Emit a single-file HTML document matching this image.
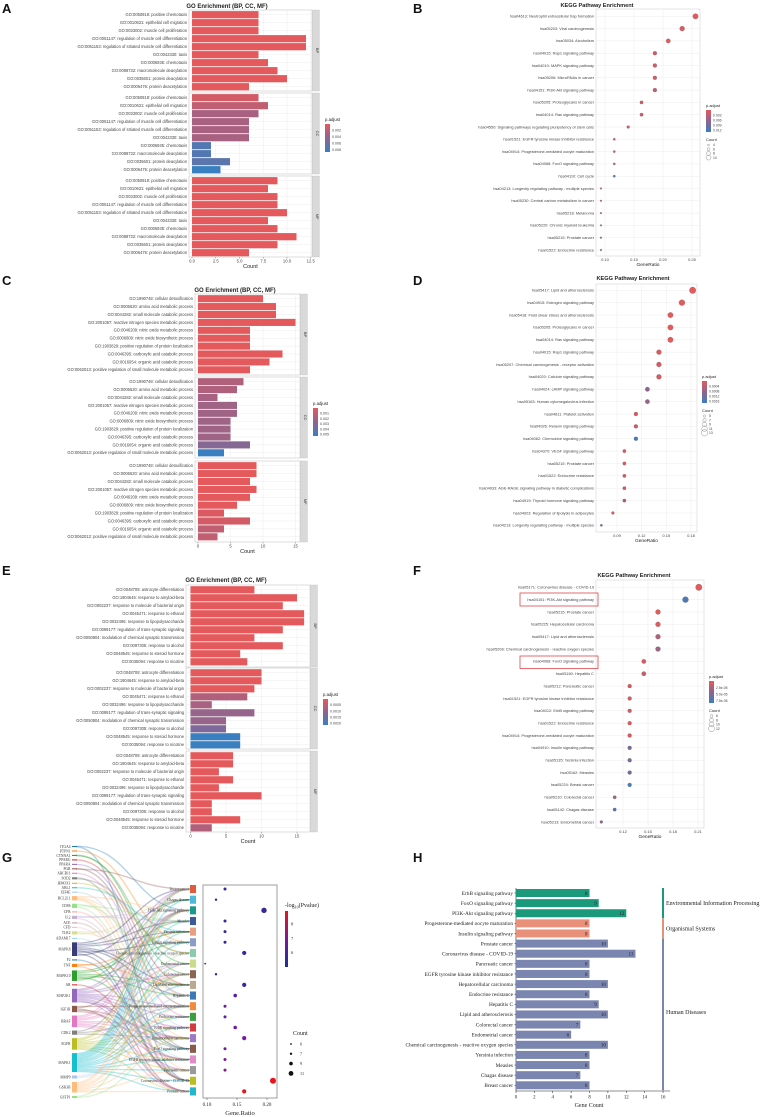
<!DOCTYPE html>
<html><head><meta charset="utf-8"><style>
html,body{margin:0;padding:0;background:#fff;}
svg{display:block;font-family:"Liberation Sans",sans-serif;}
</style></head><body>
<svg id="fig" xmlns="http://www.w3.org/2000/svg" width="768" height="1117" viewBox="0 0 768 1117">
<defs>
<linearGradient id="pgrad" x1="0" y1="0" x2="0" y2="1"><stop offset="0" stop-color="#e3595c"/><stop offset="0.5" stop-color="#8e6590"/><stop offset="1" stop-color="#3a7fc0"/></linearGradient>
<linearGradient id="ggrad" x1="0" y1="0" x2="0" y2="1"><stop offset="0" stop-color="#e8141c"/><stop offset="0.5" stop-color="#7a1a9a"/><stop offset="1" stop-color="#1a2f9a"/></linearGradient>
</defs>
<g font-weight="bold" font-size="13" fill="#111">
<text x="2" y="13">A</text>
<text x="413" y="13">B</text>
<text x="2" y="285">C</text>
<text x="413" y="285">D</text>
<text x="2" y="575">E</text>
<text x="413" y="575">F</text>
<text x="2" y="862">G</text>
<text x="413" y="862">H</text>
</g>
</svg>
<script>
// ---------- data ----------
const goLabelsA=["GO:0050918: positive chemotaxis","GO:0010631: epithelial cell migration","GO:0033002: muscle cell proliferation","GO:0051147: regulation of muscle cell differentiation","GO:0051153: regulation of striated muscle cell differentiation","GO:0042330: taxis","GO:0006935: chemotaxis","GO:0098732: macromolecule deacylation","GO:0035601: protein deacylation","GO:0006476: protein deacetylation"];
const goCountsA_BP=[7,7,7,12,12,7,8,9,10,6];
const goCountsA_CC=[7,8,7,6,6,6,2,2,4,3];
const goCountsA_MF=[9,8,9,9,10,8,9,11,9,6];
const goPadjA_BP=[0,0,0,0,0,0,0,0,0,0];
const goPadjA_CC=[0.1,0.2,0.35,0.35,0.35,0.35,0.85,0.85,0.8,1];
const goPadjA_MF=[0,0,0,0,0,0,0,0,0,0];
const goTicksA=["0.0","2.5","5.0","7.5","10.0","12.5"];
const goTickValsA=[0,2.5,5,7.5,10,12.5];

const goLabelsC=["GO:1990748: cellular detoxification","GO:0006520: amino acid metabolic process","GO:0044282: small molecule catabolic process","GO:2001057: reactive nitrogen species metabolic process","GO:0046209: nitric oxide metabolic process","GO:0006809: nitric oxide biosynthetic process","GO:1903829: positive regulation of protein localization","GO:0046395: carboxylic acid catabolic process","GO:0016054: organic acid catabolic process","GO:0062013: positive regulation of small molecule metabolic process"];
const goCountsC_BP=[10,12,12,15,8,8,8,13,11,8];
const goCountsC_CC=[7,6,3,6,6,5,5,5,8,4];
const goCountsC_MF=[9,9,8,9,8,6,4,8,4,3];
const goPadjC_BP=[0,0,0,0,0,0,0,0,0,0];
const goPadjC_CC=[0.3,0.3,0.35,0.4,0.4,0.4,0.4,0.4,0.55,1];
const goPadjC_MF=[0,0,0,0,0,0,0.05,0.1,0.2,0.2];
const goTicksC=["0","5","10","15"];
const goTickValsC=[0,5,10,15];

const goLabelsE=["GO:0048708: astrocyte differentiation","GO:1904645: response to amyloid-beta","GO:0002237: response to molecule of bacterial origin","GO:0045471: response to ethanol","GO:0032496: response to lipopolysaccharide","GO:0099177: regulation of trans-synaptic signaling","GO:0050804: modulation of chemical synaptic transmission","GO:0097305: response to alcohol","GO:0048545: response to steroid hormone","GO:0035094: response to nicotine"];
const goCountsE_BP=[9,15,13,16,16,13,9,13,7,8];
const goCountsE_CC=[10,10,9,8,3,9,5,5,7,7];
const goCountsE_MF=[6,6,4,6,4,10,3,3,7,3];
const goPadjE_BP=[0,0,0,0,0,0,0,0,0,0];
const goPadjE_CC=[0,0,0,0.3,0.35,0.45,0.45,0.6,1,1];
const goPadjE_MF=[0,0,0,0,0,0,0,0,0,0.3];
const goTicksE=["0","5","10","15"];
const goTickValsE=[0,5,10,15];

const keggLabelsB=["hsa04613: Neutrophil extracellular trap formation","hsa05203: Viral carcinogenesis","hsa05034: Alcoholism","hsa04015: Rap1 signaling pathway","hsa04010: MAPK signaling pathway","hsa05206: MicroRNAs in cancer","hsa04151: PI3K-Akt signaling pathway","hsa05205: Proteoglycans in cancer","hsa04014: Ras signaling pathway","hsa04550: Signaling pathways regulating pluripotency of stem cells","hsa01521: EGFR tyrosine kinase inhibitor resistance","hsa04914: Progesterone-mediated oocyte maturation","hsa04068: FoxO signaling pathway","hsa04110: Cell cycle","hsa04213: Longevity regulating pathway - multiple species","hsa05230: Central carbon metabolism in cancer","hsa05218: Melanoma","hsa05220: Chronic myeloid leukemia","hsa05215: Prostate cancer","hsa01522: Endocrine resistance"];
const keggRatioB=[0.256,0.233,0.209,0.186,0.186,0.186,0.186,0.163,0.163,0.14,0.116,0.116,0.116,0.116,0.093,0.093,0.093,0.093,0.093,0.093];
const keggCountB=[11,10,9,8,8,8,8,7,7,6,5,5,5,5,4,4,4,4,4,4];
const keggPadjB=[0,0.05,0,0.1,0.1,0.1,0.2,0.1,0.15,0.1,0.1,0.15,0.2,0.8,0.3,0.3,0.3,0.4,0.9,0.8];
const keggTicksB=[0.10,0.15,0.20,0.25];

const keggLabelsD=["hsa05417: Lipid and atherosclerosis","hsa04915: Estrogen signaling pathway","hsa05418: Fluid shear stress and atherosclerosis","hsa05205: Proteoglycans in cancer","hsa04014: Ras signaling pathway","hsa04015: Rap1 signaling pathway","hsa05207: Chemical carcinogenesis - receptor activation","hsa04020: Calcium signaling pathway","hsa04024: cAMP signaling pathway","hsa05163: Human cytomegalovirus infection","hsa04611: Platelet activation","hsa04926: Relaxin signaling pathway","hsa04062: Chemokine signaling pathway","hsa04370: VEGF signaling pathway","hsa05215: Prostate cancer","hsa01522: Endocrine resistance","hsa04933: AGE-RAGE signaling pathway in diabetic complications","hsa04919: Thyroid hormone signaling pathway","hsa04923: Regulation of lipolysis in adipocytes","hsa04213: Longevity regulating pathway - multiple species"];
const keggRatioD=[0.182,0.169,0.155,0.155,0.155,0.141,0.141,0.141,0.127,0.127,0.113,0.113,0.113,0.099,0.099,0.099,0.099,0.099,0.085,0.071];
const keggCountD=[13,12,11,11,11,10,10,10,9,9,8,8,8,7,7,7,7,7,6,5];
const keggPadjD=[0,0,0,0,0,0.05,0.1,0.1,0.5,0.45,0.05,0.1,0.95,0.1,0.05,0.1,0.1,0.3,0.1,0.8];
const keggTicksD=[0.09,0.12,0.15,0.18];

const keggLabelsF=["hsa05171: Coronavirus disease - COVID-19","hsa04151: PI3K-Akt signaling pathway","hsa05215: Prostate cancer","hsa05225: Hepatocellular carcinoma","hsa05417: Lipid and atherosclerosis","hsa05208: Chemical carcinogenesis - reactive oxygen species","hsa04068: FoxO signaling pathway","hsa05160: Hepatitis C","hsa05212: Pancreatic cancer","hsa01521: EGFR tyrosine kinase inhibitor resistance","hsa04012: ErbB signaling pathway","hsa01522: Endocrine resistance","hsa04914: Progesterone-mediated oocyte maturation","hsa04910: Insulin signaling pathway","hsa05135: Yersinia infection","hsa05162: Measles","hsa05224: Breast cancer","hsa05210: Colorectal cancer","hsa05142: Chagas disease","hsa05213: Endometrial cancer"];
const keggRatioF=[0.211,0.195,0.162,0.162,0.162,0.162,0.145,0.145,0.128,0.128,0.128,0.128,0.128,0.128,0.128,0.128,0.128,0.11,0.11,0.094];
const keggCountF=[13,12,10,10,10,10,9,9,8,8,8,8,8,8,8,8,8,7,7,6];
const keggPadjF=[0,0.9,0,0,0.3,0.4,0.1,0.2,0.05,0.05,0.05,0.05,0.05,0.6,0.6,0.6,0.9,0.4,0.8,0.5];
const keggTicksF=[0.12,0.15,0.18,0.21];

const sankeyGenes=["ITGA4","PTPN1","CTNNA1","PPARG","PPARA","PGR","ABCB11","SOD2","HMOX1","ABL1","EIF4E","BCL2L1","CD86","CFB","IL2","ACE","CFD","TLR2","ADAM17","MAPK8","F2","TNF","MAPK10","AR","MAP2K1","IGF1R","BRAF","CDK2","EGFR","MAPK1","MMP9","GSK3B","GSTP1"];
const sankeyGeneSize=[1,1,1,1,1,1,1,2,1,1,1,4,4,1,3,1,1,3,1,13,1,3,10,1,13,6,11,4,11,18,3,10,2];
const sankeyPathways=["Breast cancer","Chagas disease","PI3K-Akt signaling pathway","Measles","Yersinia infection","Insulin signaling pathway","Chemical carcinogenesis - reactive oxygen species","Endometrial cancer","Colorectal cancer","Lipid and atherosclerosis","Hepatitis C","Progesterone-mediated oocyte maturation","Endocrine resistance","ErbB signaling pathway","Hepatocellular carcinoma","FoxO signaling pathway","EGFR tyrosine kinase inhibitor resistance","Pancreatic cancer","Coronavirus disease - COVID-19","Prostate cancer"];
const sankeyRatio=[0.13,0.115,0.195,0.13,0.13,0.13,0.162,0.097,0.115,0.162,0.147,0.13,0.13,0.147,0.162,0.13,0.13,0.13,0.21,0.162];
const sankeyCount=[8,7,12,8,8,8,10,6,7,10,9,8,8,9,10,8,8,8,13,10];
const sankeyLogP=[5.6,5.4,5.8,5.6,5.6,5.6,5.7,5.5,5.6,5.8,6.3,6.7,6.6,6.9,7.0,6.8,7.0,7.2,8.8,8.8];
const sankeyLinks=[[0,2],[0,18],[1,5],[2,8],[2,7],[3,9],[4,10],[5,11],[5,0],[6,12],[7,15],[7,6],[8,6],[9,4],[10,13],[11,2],[11,10],[11,14],[11,17],[12,9],[12,3],[12,18],[13,18],[14,3],[14,2],[14,18],[15,18],[16,18],[17,4],[17,9],[17,1],[18,16],[19,0],[19,3],[19,4],[19,9],[19,10],[19,15],[19,5],[19,18],[19,1],[20,18],[21,9],[21,4],[21,18],[22,3],[22,4],[22,9],[22,10],[22,15],[22,5],[22,1],[23,19],[24,0],[24,2],[24,7],[24,8],[24,11],[24,12],[24,13],[24,14],[24,16],[24,17],[24,19],[24,15],[25,11],[25,2],[25,19],[25,14],[25,16],[26,0],[26,2],[26,7],[26,8],[26,13],[26,14],[26,16],[26,17],[26,19],[27,2],[27,11],[27,14],[28,0],[28,2],[28,8],[28,12],[28,13],[28,14],[28,16],[28,17],[28,19],[29,0],[29,1],[29,2],[29,3],[29,4],[29,5],[29,7],[29,8],[29,9],[29,11],[29,12],[29,13],[29,15],[29,16],[29,17],[29,18],[29,19],[30,9],[30,10],[31,0],[31,2],[31,7],[31,8],[31,11],[31,14],[31,17],[31,19],[32,6],[32,14]];

const hCategories=["ErbB signaling pathway","FoxO signaling pathway","PI3K-Akt signaling pathway","Progesterone-mediated oocyte maturation","Insulin signaling pathway","Prostate cancer","Coronavirus disease - COVID-19","Pancreatic cancer","EGFR tyrosine kinase inhibitor resistance","Hepatocellular carcinoma","Endocrine resistance","Hepatitis C","Lipid and atherosclerosis","Colorectal cancer","Endometrial cancer","Chemical carcinogenesis - reactive oxygen species","Yersinia infection","Measles","Chagas disease","Breast cancer"];
const hCounts=[8,9,12,8,8,10,13,8,8,10,8,9,10,7,6,10,8,8,7,8];
const hGroup=[0,0,0,1,1,2,2,2,2,2,2,2,2,2,2,2,2,2,2,2];
const hGroupNames=["Environmental Information Processing","Organismal Systems","Human Diseases"];
const hTicks=[0,2,4,6,8,10,12,14,16];

// ---------- helpers ----------
const NS="http://www.w3.org/2000/svg";
const svg=document.getElementById('fig');
function mk(tag,attrs,parent,txt){const e=document.createElementNS(NS,tag);for(const k in attrs)e.setAttribute(k,attrs[k]);if(txt!==undefined)e.textContent=txt;(parent||svg).appendChild(e);return e;}
function grp(name,parent){const g=mk('g',{},parent);


return g;}
const RED=[227,89,92],PUR=[142,101,144],BLU=[58,127,192];
function lerp(a,b,t){return a.map((v,i)=>Math.round(v+(b[i]-v)*t));}
function pcol(t){const c=t<0.5?lerp(RED,PUR,t*2):lerp(PUR,BLU,(t-0.5)*2);return 'rgb('+c.join(',')+')';}

// ---------- GO bar panel ----------
function goPanel(c){
  const g=grp(c.name);
  const t=mk('text',{x:c.titleX,y:c.titleY,'font-size':6,'font-weight':'bold','text-anchor':'middle',fill:'#222'},g,'GO Enrichment (BP, CC, MF)');
  
  
  const xs=v=>c.x0+v*c.k;
  const strips=['BP','CC','MF'];
  c.facets.forEach((f,fi)=>{
    const fg=grp('facet-'+strips[fi].toLowerCase(),g);
    mk('rect',{x:c.left,y:f[0],width:c.right-c.left,height:f[1]-f[0],fill:'#fff',stroke:'#bbb','stroke-width':0.5},fg);
    c.tickVals.forEach(tv=>{mk('line',{x1:xs(tv),x2:xs(tv),y1:f[0],y2:f[1],stroke:'#ececec','stroke-width':0.5},fg);});
    const vals=c.counts[fi],cols=c.padj[fi];
    vals.forEach((v,i)=>{
      const cy=f[0]+c.pad+i*c.step;
      mk('line',{x1:c.left,x2:c.right,y1:cy,y2:cy,stroke:'#ececec','stroke-width':0.5},fg);
      const b=mk('rect',{x:xs(0),y:cy-c.step*0.45,width:xs(v)-xs(0),height:c.step*0.9,fill:pcol(cols[i])},fg);
      
      
      const l=mk('text',{x:c.left-2,y:cy+1.4,'font-size':4.1,'text-anchor':'end',fill:'#444'},fg,c.labels[i]);
      
      
    });
    mk('rect',{x:c.right+0.5,y:f[0],width:7,height:f[1]-f[0],fill:'#d9d9d9',stroke:'#bbb','stroke-width':0.3},fg);
    const st=mk('text',{x:c.right+4,y:(f[0]+f[1])/2,'font-size':4,'text-anchor':'middle',fill:'#333',transform:'rotate(90 '+(c.right+4)+' '+((f[0]+f[1])/2)+')'},fg,strips[fi]);
    
    
  });
  const yb=c.facets[2][1];
  c.tickVals.forEach((tv,i)=>{
    mk('line',{x1:xs(tv),x2:xs(tv),y1:yb,y2:yb+1.5,stroke:'#555','stroke-width':0.4},g);
    const tl=mk('text',{x:xs(tv),y:yb+5.5,'font-size':4.2,'text-anchor':'middle',fill:'#444'},g,c.ticks[i]);
    
    
  });
  const xt=mk('text',{x:(c.left+c.right)/2,y:yb+11,'font-size':5.5,'text-anchor':'middle',fill:'#222'},g,'Count');
  
  
  const lg=grp('legend-padjust',g);
  mk('text',{x:c.lx,y:c.ly,'font-size':4.3,fill:'#222'},lg,'p.adjust');
  mk('rect',{x:c.lx,y:c.ly+3,width:5,height:c.lh,fill:'url(#pgrad)'},lg);
  c.lticks.forEach((s,i)=>{const yy=c.ly+3+c.lh*(i+1)/(c.lticks.length+0.3);mk('text',{x:c.lx+7,y:yy+1.2,'font-size':3.6,fill:'#444'},lg,s);});
}
goPanel({name:'panel-a-go-bars',titleX:227,titleY:8,x0:192,k:9.5,left:189,right:312,facets:[[10,91],[93,174],[176,257]],pad:4.7,step:8,labels:goLabelsA,counts:[goCountsA_BP,goCountsA_CC,goCountsA_MF],padj:[goPadjA_BP,goPadjA_CC,goPadjA_MF],ticks:goTicksA,tickVals:goTickValsA,lx:325,ly:121,lh:28,lticks:['0.002','0.004','0.006','0.008']});
goPanel({name:'panel-c-go-bars',titleX:235,titleY:292,x0:198,k:6.5,left:195,right:300,facets:[[294,375],[377,458],[461,542]],pad:4.7,step:7.9,labels:goLabelsC,counts:[goCountsC_BP,goCountsC_CC,goCountsC_MF],padj:[goPadjC_BP,goPadjC_CC,goPadjC_MF],ticks:goTicksC,tickVals:goTickValsC,lx:313,ly:405,lh:28,lticks:['0.001','0.002','0.003','0.004','0.005']});
goPanel({name:'panel-e-go-bars',titleX:226,titleY:582,x0:190.5,k:7.1,left:186,right:310,facets:[[585,667],[668,749],[751,832]],pad:4.8,step:8,labels:goLabelsE,counts:[goCountsE_BP,goCountsE_CC,goCountsE_MF],padj:[goPadjE_BP,goPadjE_CC,goPadjE_MF],ticks:goTicksE,tickVals:goTickValsE,lx:323,ly:696,lh:26,lticks:['0.0005','0.0010','0.0015','0.0020']});

// ---------- KEGG dot panel ----------
function keggPanel(c){
  const g=grp(c.name);
  const t=mk('text',{x:c.titleX,y:c.titleY,'font-size':5.6,'font-weight':'bold','text-anchor':'middle',fill:'#222'},g,'KEGG Pathway Enrichment');
  
  
  const xs=v=>c.xa+(v-c.va)*c.k;
  mk('rect',{x:c.left,y:c.top,width:c.right-c.left,height:c.bottom-c.top,fill:'#fff',stroke:'#ccc','stroke-width':0.5},g);
  c.ticks.forEach(tv=>{mk('line',{x1:xs(tv),x2:xs(tv),y1:c.top,y2:c.bottom,stroke:'#ececec','stroke-width':0.5},g);});
  c.labels.forEach((lab,i)=>{
    const cy=c.y0+i*c.step;
    mk('line',{x1:c.left,x2:c.right,y1:cy,y2:cy,stroke:'#ececec','stroke-width':0.5},g);
    const l=mk('text',{x:c.left-2,y:cy+1.3,'font-size':3.9,'text-anchor':'end',fill:'#444'},g,lab);
    
    
    const d=mk('circle',{cx:xs(c.ratio[i]),cy:cy,r:0.9+(c.count[i]-4)*0.26,fill:pcol(c.padj[i]),stroke:'#555','stroke-width':0.2},g);
    
    
  });
  c.ticks.forEach(tv=>{
    const tl=mk('text',{x:xs(tv),y:c.bottom+5,'font-size':4,'text-anchor':'middle',fill:'#444'},g,tv.toFixed(2));
    
    
  });
  const xt=mk('text',{x:(c.left+c.right)/2,y:c.bottom+10,'font-size':4.8,'text-anchor':'middle',fill:'#222'},g,'GeneRatio');
  
  
  const lg=grp('legend',g);
  mk('text',{x:c.lx,y:c.ly,'font-size':4,fill:'#222'},lg,'p.adjust');
  mk('rect',{x:c.lx,y:c.ly+3,width:5,height:22,fill:'url(#pgrad)'},lg);
  c.lticks.forEach((s,i)=>{mk('text',{x:c.lx+7,y:c.ly+3+22*(i+1)/(c.lticks.length+0.3)+1.2,'font-size':3.4,fill:'#444'},lg,s);});
  mk('text',{x:c.lx,y:c.ly+34,'font-size':4,fill:'#222'},lg,'Count');
  c.counts.forEach((n,i)=>{const yy=c.ly+38+i*4.2;mk('circle',{cx:c.lx+2.5,cy:yy,r:0.9+(n-4)*0.26,fill:'none',stroke:'#777','stroke-width':0.4},lg);mk('text',{x:c.lx+7,y:yy+1.2,'font-size':3.4,fill:'#444'},lg,String(n));});
}
keggPanel({name:'panel-b-kegg-dots',titleX:597,titleY:7,left:596,right:700,top:9,bottom:256,y0:16.3,step:12.3,xa:605,va:0.10,k:580,labels:keggLabelsB,ratio:keggRatioB,count:keggCountB,padj:keggPadjB,ticks:keggTicksB,lx:706,ly:107,lticks:['0.003','0.006','0.009','0.012'],counts:[4,6,8,10]});
keggPanel({name:'panel-d-kegg-dots',titleX:633,titleY:280,left:596,right:697,top:284,bottom:532,y0:290.3,step:12.37,xa:617,va:0.09,k:822,labels:keggLabelsD,ratio:keggRatioD,count:keggCountD,padj:keggPadjD,ticks:keggTicksD,lx:702,ly:378,lticks:['0.0004','0.0008','0.0012','0.0016'],counts:[5,7,9,11,13]});
keggPanel({name:'panel-f-kegg-dots',titleX:634,titleY:577,left:596,right:704,top:580,bottom:828,y0:587.3,step:12.35,xa:623,va:0.12,k:833,labels:keggLabelsF,ratio:keggRatioF,count:keggCountF,padj:keggPadjF,ticks:keggTicksF,lx:709,ly:678,lticks:['2.5e-05','5.0e-05','7.5e-05'],counts:[6,8,10,12]});
(function(){
  const hl=grp('highlight-boxes');
  const r1=mk('rect',{x:520,y:593,width:78,height:13,fill:'none',stroke:'#e0474c','stroke-width':0.8},hl);
  
  
  const r2=mk('rect',{x:520,y:656,width:78,height:12.5,fill:'none',stroke:'#e0474c','stroke-width':0.8},hl);
  
  
})();

// ---------- G: sankey + dot ----------
(function(){
  const g=grp('panel-g-sankey');
  const gcols=['#1f77b4','#ff7f0e','#2ca02c','#d62728','#9467bd','#8c564b','#e377c2','#7f7f7f','#bcbd22','#17becf','#aec7e8','#ffbb78','#98df8a','#ff9896','#c5b0d5','#c49c94','#f7b6d2','#dbdb8d','#9edae5','#393b79'];
  const pcols=['#e15a3c','#4db8d8','#1a9a8a','#3c5a9a','#e8a080','#8c9cc8','#8ccab0','#c8dc8c','#8c6450','#bca890','#3c78b4','#f08c3c','#3ca03c','#d23c3c','#9c78c8','#8c5a4a','#e08cc8','#9a9a9a','#bcbd22','#20b8cc'];
  // gene positions
  const gTop=846,gBot=1098;let total=sankeyGeneSize.reduce((a,b)=>a+b,0);
  const gap=(gBot-gTop-total*1.05)/(sankeyGenes.length-1);
  const gy=[];let y=gTop;
  sankeyGenes.forEach((n,i)=>{const h=sankeyGeneSize[i]*1.05;gy.push([y,h]);y+=h+gap;});
  const pTop=885,pH=[];const ph=8.1,pg=2.55;
  const py=sankeyPathways.map((p,i)=>pTop+i*(ph+pg)+ph/2);
  const fl=grp('flows',g);
  const gOff=sankeyGenes.map(()=>0),gCnt=sankeyGenes.map(()=>0);
  sankeyLinks.forEach(l=>gCnt[l[0]]++);
  sankeyLinks.forEach(l=>{
    const gi=l[0],pi=l[1];
    const [y0,h]=gy[gi];const sy=y0+h*(gOff[gi]+0.5)/gCnt[gi];gOff[gi]++;
    const ey=py[pi];
    const p=mk('path',{d:`M76,${sy} C133,${sy} 133,${ey} 190,${ey}`,fill:'none',stroke:gcols[gi%gcols.length],'stroke-opacity':0.35,'stroke-width':1.3},fl);
    
    
  });
  sankeyGenes.forEach((n,i)=>{
    const [y0,h]=gy[i];
    const r=mk('rect',{x:72,y:y0,width:5,height:Math.max(h,1),fill:gcols[i%gcols.length]},g);
    
    
    const t=mk('text',{x:70.5,y:y0+h/2+1.3,'font-size':3.6,'text-anchor':'end',fill:'#333','font-family':'Liberation Serif,serif'},g,n);
    
    
  });
  sankeyPathways.forEach((n,i)=>{
    const r=mk('rect',{x:190,y:py[i]-ph/2,width:6,height:ph,fill:pcols[i]},g);
    
    
    const t=mk('text',{x:189,y:py[i]+1.3,'font-size':3.6,'text-anchor':'end',fill:'#333','font-family':'Liberation Serif,serif'},g,n);
    
    
  });
  // dot plot
  const dg=grp('panel-g-dotplot',g);
  mk('rect',{x:203,y:885,width:74,height:213,fill:'#fff',stroke:'#888','stroke-width':0.8},dg);
  const xs=v=>207+(v-0.10)*600;
  const pmin=5.2,pmax=8.8;
  function gc(v){const t=(v-pmin)/(pmax-pmin);const a=[26,47,154],m=[122,26,154],b=[232,20,28];const c=t<0.5?lerp(a,m,t*2):lerp(m,b,(t-0.5)*2);return 'rgb('+c.join(',')+')';}
  sankeyPathways.forEach((n,i)=>{
    const d=mk('circle',{cx:xs(sankeyRatio[i]),cy:py[i],r:0.6+(sankeyCount[i]-5)*0.3,fill:gc(sankeyLogP[i])},dg);
    
    
  });
  [0.10,0.15,0.20].forEach(v=>{mk('line',{x1:xs(v),x2:xs(v),y1:1098,y2:1100,stroke:'#444','stroke-width':0.5},dg);mk('text',{x:xs(v),y:1106,'font-size':5,'text-anchor':'middle','font-family':'Liberation Serif,serif',fill:'#222'},dg,v.toFixed(2));});
  const xt=mk('text',{x:240,y:1115,'font-size':6.5,'text-anchor':'middle','font-family':'Liberation Serif,serif',fill:'#222'},dg,'Gene.Ratio');
  
  
  const lg=grp('legend-pvalue',g);
  const tt=mk('text',{x:285,y:907,'font-size':6,'font-family':'Liberation Serif,serif',fill:'#222'},lg);
  tt.innerHTML='-log<tspan font-size="4" dy="1.5">10</tspan><tspan dy="-1.5">(Pvalue)</tspan>';
  mk('rect',{x:285,y:911,width:3,height:56,fill:'url(#ggrad)'},lg);
  [8,7,6].forEach(v=>{const yy=911+56*(pmax+0.1-v)/(pmax+0.1-pmin+0.2);mk('text',{x:291,y:yy+1.5,'font-size':4.5,'font-family':'Liberation Serif,serif',fill:'#222'},lg,String(v));});
  const cl=grp('legend-count',g);
  mk('text',{x:293,y:1035,'font-size':6,'font-family':'Liberation Serif,serif',fill:'#222'},cl,'Count');
  [6,7,9,11].forEach((n,i)=>{const yy=1044+i*9.8;mk('circle',{cx:291,cy:yy,r:0.6+(n-5)*0.3,fill:'#111'},cl);mk('text',{x:300,y:yy+1.5,'font-size':4.2,'font-family':'Liberation Serif,serif',fill:'#222'},cl,String(n));});
})();

// ---------- H: horizontal bars ----------
(function(){
  const g=grp('panel-h-bars');
  const xs=v=>516+v*9.19;
  const y0=893,st=10.12;
  const gcol=['#1a9a7a','#e8907a','#7a86b0'];
  mk('line',{x1:516,x2:516,y1:888,y2:1091,stroke:'#222','stroke-width':0.6},g);
  mk('line',{x1:516,x2:670,y1:1091,y2:1091,stroke:'#222','stroke-width':0.6},g);
  hCategories.forEach((n,i)=>{
    const cy=y0+i*st;
    const b=mk('rect',{x:xs(0),y:cy-4,width:xs(hCounts[i])-xs(0),height:8,fill:gcol[hGroup[i]]},g);
    
    
    mk('line',{x1:514.5,x2:516,y1:cy,y2:cy,stroke:'#222','stroke-width':0.5},g);
    const l=mk('text',{x:513,y:cy+1.8,'font-size':5.3,'text-anchor':'end','font-family':'Liberation Serif,serif',fill:'#222'},g,n);
    
    
    const v=mk('text',{x:xs(hCounts[i])-2,y:cy+1.8,'font-size':5,'text-anchor':'end','font-family':'Liberation Serif,serif',fill:'#222'},g,String(hCounts[i]));
    
    
  });
  hTicks.forEach(t=>{mk('line',{x1:xs(t),x2:xs(t),y1:1091,y2:1093,stroke:'#222','stroke-width':0.5},g);mk('text',{x:xs(t),y:1098.5,'font-size':4.8,'text-anchor':'middle','font-family':'Liberation Serif,serif',fill:'#222'},g,String(t));});
  const xt=mk('text',{x:589,y:1107,'font-size':6,'text-anchor':'middle','font-family':'Liberation Serif,serif',fill:'#222'},g,'Gene Count');
  
  
  // group bars
  hGroupNames.forEach((nm,gi)=>{
    const idx=hGroup.map((v,i)=>v===gi?i:-1).filter(v=>v>=0);
    const ya=y0+idx[0]*st-5,yb=y0+idx[idx.length-1]*st+5;
    const r=mk('rect',{x:662,y:ya,width:2,height:yb-ya,fill:gcol[gi]},g);
    
    
    const ty=gi===2?1014:(ya+yb)/2+2;
    const t=mk('text',{x:666,y:ty,'font-size':6,'font-family':'Liberation Serif,serif',fill:'#222'},g,nm);
    
    
  });
})();
</script>
</body></html>
